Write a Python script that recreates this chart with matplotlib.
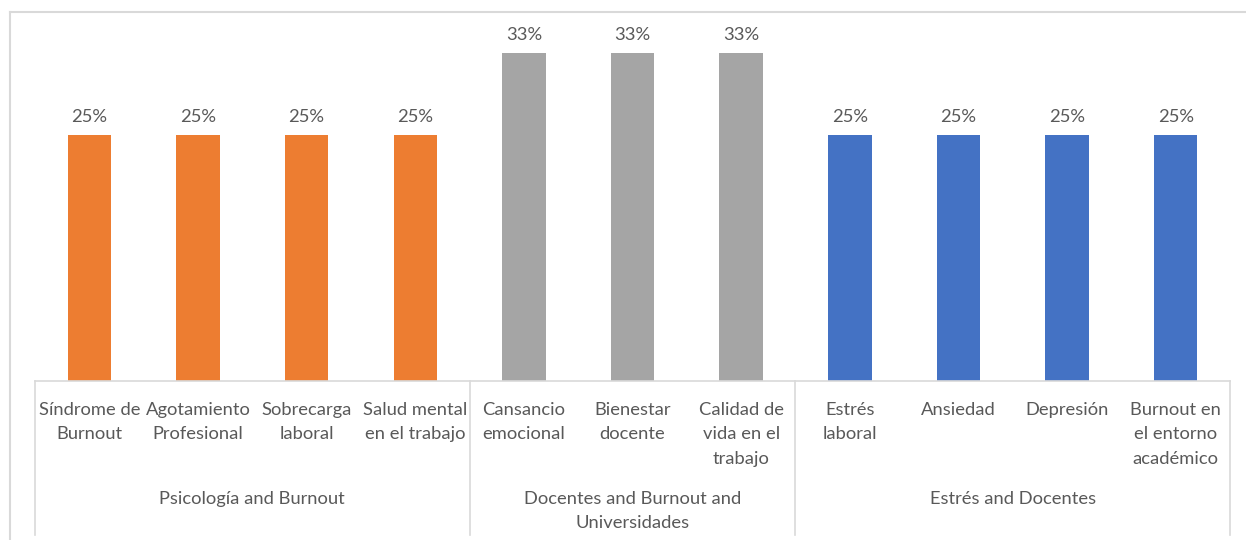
import matplotlib
matplotlib.use("Agg")
from matplotlib import pyplot as plt
from matplotlib.lines import Line2D
import matplotlib.transforms as mtransforms

# === DATA ===
categories = [
    "Síndrome de\nBurnout", "Agotamiento\nProfesional", "Sobrecarga\nlaboral",
    "Salud mental\nen el trabajo",
    "Cansancio\nemocional", "Bienestar\ndocente", "Calidad de\nvida en el\ntrabajo",
    "Estrés\nlaboral", "Ansiedad", "Depresión", "Burnout en\nel entorno\nacadémico",
]
values = [0.25, 0.25, 0.25, 0.25, 1 / 3, 1 / 3, 1 / 3, 0.25, 0.25, 0.25, 0.25]
value_labels = ["25%", "25%", "25%", "25%", "33%", "33%", "33%", "25%", "25%", "25%", "25%"]
groups = ["Psicología and Burnout", "Docentes and Burnout and\nUniversidades", "Estrés and Docentes"]
group_sizes = [4, 3, 4]
group_colors = ["#ED7D31", "#A5A5A5", "#4472C4"]

TEXT_COLOR = "#595959"
LINE_COLOR = "#D9D9D9"
FONT = ["Lato", "DejaVu Sans"]
FS = 13.2

plt.rcParams['font.family'] = FONT

W, H = 1246, 540
fig = plt.figure(figsize=(W / 100, H / 100), dpi=100)
ax_left, ax_right, ax_bottom, ax_top = 35, 1230, 381, 20
ax = fig.add_axes([ax_left / W, 1 - ax_bottom / H, (ax_right - ax_left) / W, (ax_bottom - ax_top) / H])

colors = []
for c, n in zip(group_colors, group_sizes):
    colors += [c] * n

x = list(range(len(categories)))
bars = ax.bar(x, values, width=0.4, color=colors)
for b, lab in zip(bars, value_labels):
    ax.annotate(lab, (b.get_x() + b.get_width() / 2, b.get_height()), xytext=(0, 7),
                textcoords="offset points", ha="center", va="bottom",
                fontsize=FS, color=TEXT_COLOR)

ax.set_xlim(-0.5, len(categories) - 0.5)
ax.set_ylim(0, (1 / 3) * (ax_bottom - ax_top) / (ax_bottom - 53))
ax.set_yticks([])
for s in ["top", "left", "right"]:
    ax.spines[s].set_visible(False)
ax.spines["bottom"].set_color(LINE_COLOR)
ax.spines["bottom"].set_linewidth(1.2)

ax.set_xticks(x)
ax.set_xticklabels(categories, fontsize=FS, color=TEXT_COLOR, linespacing=1.65, va="top")
ax.tick_params(axis="x", length=0, pad=15)

# group labels and separators
trans = mtransforms.blended_transform_factory(ax.transData, ax.transAxes)
h = ax_bottom - ax_top
bottom_frac = (ax_bottom - 535) / h
start = -0.5
ax.plot([start, start], [0, bottom_frac], color=LINE_COLOR, lw=1.2, transform=trans, clip_on=False)
for g, n in zip(groups, group_sizes):
    end = start + n
    ax.plot([end, end], [0, bottom_frac], color=LINE_COLOR, lw=1.2, transform=trans, clip_on=False)
    ax.text((start + end) / 2, (ax_bottom - 491) / h, g, transform=trans, ha="center", va="top",
            fontsize=FS, color=TEXT_COLOR, linespacing=1.62)
    start = end

# outer chart border
fig.add_artist(Line2D([10 / W, 1.0], [1 - 12 / H, 1 - 12 / H], color=LINE_COLOR, lw=1.5,
                      transform=fig.transFigure))
fig.add_artist(Line2D([10 / W, 10 / W], [0.0, 1 - 12 / H], color=LINE_COLOR, lw=1.5,
                      transform=fig.transFigure))

fig.savefig("out.png", dpi=100)
